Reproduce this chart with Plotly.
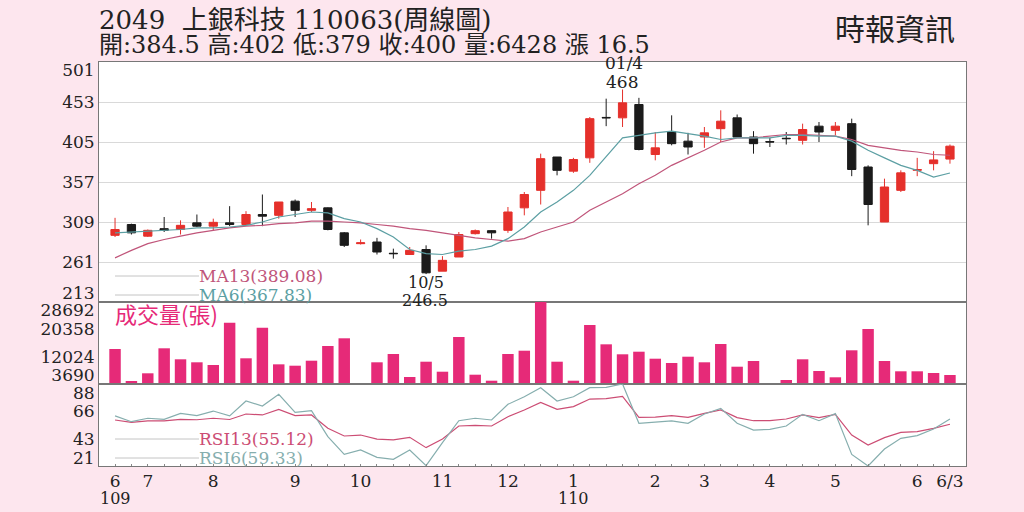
import plotly.graph_objects as go
from plotly.subplots import make_subplots

# ── Weekly data (109/06 .. 110/06/03) ─────────────────────────────────────
WEEK = list(range(52))

OPEN = [293, 306, 292, 301, 300, 308, 304, 308, 306, 318, 317, 334, 323, 326, 296, 283, 285,
        271.5, 270, 276, 250, 267, 295, 298.6, 299, 326, 347, 387, 370, 386, 434.5, 434, 450,
        390, 417, 406, 411, 421, 434, 411, 405.5, 409.5, 407, 424, 419, 427, 375, 309, 347,
        371, 379, 384.5]
HIGH = [314, 307, 300, 315, 311, 318, 313, 328, 322, 342, 333, 336, 333, 326.5, 297, 288, 290,
        277, 279, 281, 268, 297, 300, 299, 327, 345, 391, 387, 386, 435, 457, 468, 458,
        417, 437, 416, 423, 443, 438, 418, 410, 417, 427, 429, 429, 433, 377, 361, 371,
        386, 394, 402]
LOW = [291, 294, 291, 297, 294, 303, 299, 304, 306, 304, 313, 315, 321, 299, 279, 282, 270,
       265, 270, 246.5, 250, 267, 294, 289, 296, 317, 330, 365, 368, 380, 424, 423, 395,
       383, 401, 390, 398, 405, 411, 391, 399, 402, 402, 405, 413, 364, 305, 309, 345,
       364, 371, 379]
CLOSE = [300, 296, 299, 299, 305, 304, 308.6, 306, 318, 316, 333, 323, 325, 300, 281, 284, 273,
         271, 275, 248, 263, 294, 298.6, 296, 321, 342, 385, 371, 384, 433, 434, 452, 396,
         398, 403, 399, 416, 430, 411, 403, 405, 409, 420, 417, 424, 372, 330, 351, 368,
         372, 383.5, 400]

MA13 = [266, 275, 283, 288, 292, 296, 299, 302, 304, 305, 307, 308, 310, 310, 309, 308, 306,
        304, 301, 299, 296, 293, 290, 288, 286, 289, 297, 303, 309, 323, 333, 343, 355,
        365, 377, 386, 395, 405, 410, 410, 412, 414, 414, 413, 412, 408, 401, 398, 395,
        393, 390, 389.08]
MA6 = [296, 297, 298, 299, 300, 302, 302, 303, 305, 309, 315, 318, 321, 320, 313, 309, 301,
       291, 276, 271, 270, 274, 276, 280, 289, 303, 321, 333, 347, 365, 388, 410, 413,
       416, 418, 415, 412, 408, 410, 410, 410, 413, 413, 412, 412, 406, 395, 386, 377,
       371, 363, 367.83]

VOLUME = [14362, 4605, 6952, 14575, 11222, 10306, 9483, 22381, 11526, 20856, 9687, 9270, 10794,
          15276, 17624, 3900, 10306, 12837, 5824, 10489, 7440, 18020, 6526, 4696, 12837, 13843,
          28692, 10489, 4696, 21680, 15788, 12745, 13538, 11405, 10093, 12013, 10306, 15886,
          8965, 10703, 3690, 4910, 11222, 7654, 5733, 13965, 20460, 10703, 7562, 7562, 7044,
          6428]

RSI13 = [58.6, 56.7, 57.8, 57.8, 59.1, 58.8, 60, 59, 63.5, 62.7, 67.3, 62.2, 62.7, 51.8, 45.5,
         46.3, 43, 42.3, 44.4, 36, 43, 53.7, 54.2, 53.7, 61.3, 66.8, 73, 67.3, 69.5, 75.7, 76,
         77.9, 60.8, 61, 62.1, 60.8, 64, 66.8, 60.5, 58, 58, 59.4, 62.7, 60.5, 63.2, 46.3, 38.2,
         44.2, 48.5, 49.1, 51.8, 55.12]
RSI6 = [61.9, 57.2, 60, 59.1, 64, 62.1, 65.9, 61.9, 74.1, 70, 79.6, 64.8, 66.2, 45, 30.5, 34.1,
        28.1, 26.5, 34.1, 21.3, 40.1, 58, 60, 58.6, 71.4, 77.6, 85, 74.1, 77.6, 85, 85.3, 88,
        55.9, 56.7, 57.8, 55.9, 63.5, 68.1, 55.9, 50.4, 51, 53.7, 63.2, 58, 63.8, 30.5, 21,
        34.9, 43.6, 45.8, 51.2, 59.33]

TICK_POS = [0, 2, 6, 11, 15, 20, 24, 28, 33, 36, 40, 44, 49, 51]
TICK_TEXT = ["6", "7", "8", "9", "10", "11", "12", "1", "2", "3", "4", "5", "6", "6/3"]
YEAR_POS = [0, 28]
YEAR_TEXT = ["109", "110"]

PRICE_GRID = [261, 309, 357, 405, 453]
PRICE_LABELS = ["213", "261", "309", "357", "405", "453", "501"]
VOL_LABELS = ["3690", "12024", "20358", "28692"]
RSI_LABELS = ["21", "43", "66", "88"]

# ── Colours / fonts ───────────────────────────────────────────────────────
BG = "#fde6ee"
RED = "#e5302b"
BLACK = "#1b1b1b"
MAGENTA = "#e62a78"
MA13_C = "#c0557a"
MA6_C = "#5c9fa3"
RSI13_C = "#cc4d74"
RSI6_C = "#86aeae"
SERIF = "DejaVu Serif, Noto Sans CJK TC"
CJK = "Noto Sans CJK TC, DejaVu Serif"

fig = make_subplots(rows=3, cols=1, shared_xaxes=True, vertical_spacing=0)

fig.add_trace(go.Candlestick(
    x=WEEK, open=OPEN, high=HIGH, low=LOW, close=CLOSE,
    increasing=dict(line=dict(color=RED, width=1), fillcolor=RED),
    decreasing=dict(line=dict(color=BLACK, width=1), fillcolor=BLACK),
    showlegend=False,
), row=1, col=1)
fig.add_trace(go.Scatter(x=WEEK, y=MA13, mode="lines", line=dict(color=MA13_C, width=1.2),
                         showlegend=False), row=1, col=1)
fig.add_trace(go.Scatter(x=WEEK, y=MA6, mode="lines", line=dict(color=MA6_C, width=1.2),
                         showlegend=False), row=1, col=1)

fig.add_trace(go.Bar(x=WEEK, y=VOLUME, marker=dict(color=MAGENTA, line_width=0),
                     showlegend=False), row=2, col=1)

fig.add_trace(go.Scatter(x=WEEK, y=RSI13, mode="lines", line=dict(color=RSI13_C, width=1.2),
                         showlegend=False), row=3, col=1)
fig.add_trace(go.Scatter(x=WEEK, y=RSI6, mode="lines", line=dict(color=RSI6_C, width=1.2),
                         showlegend=False), row=3, col=1)

W, H = 1024, 512
X0, X1 = 99 / W, 966 / W


def py(px):  # pixel row -> paper y
    return 1 - px / H


fig.update_layout(
    width=W, height=H,
    margin=dict(l=0, r=0, t=0, b=0, autoexpand=False),
    paper_bgcolor=BG, plot_bgcolor="white",
    bargap=0.3, boxgap=0.28,
    font=dict(family=SERIF, color="#222"),
    hovermode=False,
)

axis_line = dict(showline=True, linecolor="#777", linewidth=1, mirror=True, automargin=False)
xr = [-0.98, 51.98]
for r in (1, 2, 3):
    fig.update_xaxes(range=xr, domain=[X0, X1], showgrid=False, zeroline=False,
                     rangeslider_visible=False, showticklabels=False, ticks="",
                     **axis_line, row=r, col=1)
fig.update_xaxes(showticklabels=True, tickmode="array", tickvals=TICK_POS, ticktext=TICK_TEXT,
                 tickfont=dict(size=17, family=SERIF, color="#222"),
                 minor=dict(tickmode="array", tickvals=WEEK, ticks="inside", ticklen=2,
                            tickcolor="#888"),
                 row=3, col=1)

tick_font = dict(size=17, family=SERIF, color="#222")
# price axis: labels at the edges are nudged inward as in the original
fig.update_yaxes(domain=[py(302), py(62)], range=[213, 501], showgrid=False, zeroline=False,
                 tickmode="array",
                 tickvals=[223.4, 261, 309, 357, 405, 453, 491.4], ticktext=PRICE_LABELS,
                 ticks="", tickfont=tick_font,
                 minor=dict(tickmode="array", tickvals=PRICE_GRID, showgrid=True,
                            gridcolor="#d9d9d9", gridwidth=1),
                 **axis_line, row=1, col=1)
fig.update_yaxes(domain=[py(384), py(302)], range=[3690, 28692], showgrid=False, zeroline=False,
                 tickmode="array", tickvals=[6434, 12024, 20358, 26253], ticktext=VOL_LABELS,
                 ticks="", tickfont=tick_font,
                 **axis_line, row=2, col=1)
fig.update_yaxes(domain=[py(466), py(384)], range=[21, 88], showgrid=False, zeroline=False,
                 tickmode="array", tickvals=[27.3, 43, 66, 80.4], ticktext=RSI_LABELS,
                 ticks="", tickfont=tick_font,
                 **axis_line, row=3, col=1)


def ann(text, x, y, size=17, color="#222", family=SERIF, xanchor="left"):
    fig.add_annotation(text=text, x=x / W, y=py(y), xref="paper", yref="paper",
                       showarrow=False, xanchor=xanchor, yanchor="middle",
                       font=dict(size=size, color=color, family=family))


# year marks under the first month of each year
for pos, txt in zip(YEAR_POS, YEAR_TEXT):
    fig.add_annotation(text=txt, x=pos, y=py(498), xref="x3", yref="paper",
                       showarrow=False, xanchor="center", yanchor="middle",
                       font=dict(size=16, family=SERIF, color="#222"))

# headers
ann("2049  上銀科技 110063(周線圖)", 97, 20, size=26)
ann("開:384.5 高:402 低:379 收:400 量:6428 漲 16.5", 97, 45, size=24)
ann("時報資訊", 833, 27, size=30, family=CJK)

# MA / RSI legends with gray lead lines
for y_px, label, col in [(276, "MA13(389.08)", MA13_C), (295, "MA6(367.83)", MA6_C),
                         (439, "RSI13(55.12)", RSI13_C), (458, "RSI6(59.33)", RSI6_C)]:
    fig.add_shape(type="line", xref="paper", yref="paper", x0=115 / W, x1=199 / W,
                  y0=py(y_px), y1=py(y_px), line=dict(color="#c4c4c4", width=1))
    ann(label, 197, y_px, size=17, color=col)

ann("成交量(張)", 113, 313, size=22, color=MAGENTA, family=CJK)

# low / high callouts
ann("10/5", 426, 282, size=16, xanchor="center")
ann("246.5", 425, 300, size=16, xanchor="center")
ann("01/4", 624, 63, size=17, xanchor="center")
ann("468", 622, 82, size=17, xanchor="center")

fig.write_html("out.html", config={"displayModeBar": False},
               post_script="document.body.style.margin='0px';")
